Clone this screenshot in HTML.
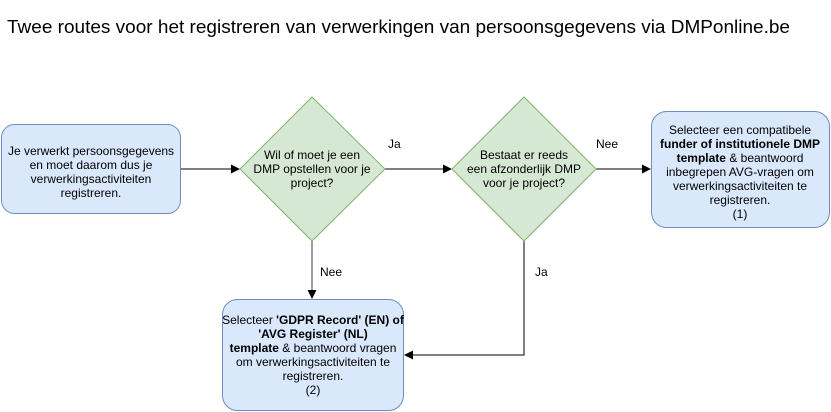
<!DOCTYPE html>
<html><head><meta charset="utf-8"><style>
body{margin:0;background:#fff;}
svg{display:block;font-family:"Liberation Sans",Arial,sans-serif;}
</style></head><body>
<svg width="831" height="412" viewBox="0 0 831 412" xmlns="http://www.w3.org/2000/svg">
<text x="7" y="33" font-size="18.5" textLength="783" lengthAdjust="spacingAndGlyphs">Twee routes voor het registreren van verwerkingen van persoonsgegevens via DMPonline.be</text>
<!-- connectors -->
<g stroke="#000" stroke-width="1" fill="none">
<line x1="181" y1="169" x2="232" y2="169"/>
<line x1="385" y1="169" x2="444" y2="169"/>
<line x1="596" y1="169" x2="643" y2="169"/>
<polyline points="524,241 524,355 412,355"/>
</g>
<line x1="312" y1="241" x2="312" y2="291" stroke="#666" stroke-width="1.3"/>
<g fill="#000">
<polygon points="240,169 231,164.5 231,173.5"/>
<polygon points="452,169 443,164.5 443,173.5"/>
<polygon points="651,169 642,164.5 642,173.5"/>
<polygon points="404,355 413,350.5 413,359.5"/>
<polygon points="312,299 307.5,290 316.5,290"/>
</g>
<!-- shapes -->
<rect x="1.5" y="124.5" width="179" height="89" rx="13" fill="#dae8fc" stroke="#6c8ebf"/>
<polygon points="312,97 385,169 312,241 240,169" fill="#d5e8d4" stroke="#82b366"/>
<polygon points="524,97 596,169 524,241 452,169" fill="#d5e8d4" stroke="#82b366"/>
<rect x="651.5" y="111.5" width="178" height="116" rx="15" fill="#dae8fc" stroke="#6c8ebf"/>
<rect x="222.5" y="299.5" width="181" height="111" rx="15" fill="#dae8fc" stroke="#6c8ebf"/>
<g font-size="12" text-anchor="middle" fill="#000">
<text x="91" y="155">Je verwerkt persoonsgegevens</text>
<text x="91" y="169">en moet daarom dus je</text>
<text x="91" y="183">verwerkingsactiviteiten</text>
<text x="91" y="197">registreren.</text>
<text x="312" y="159">Wil of moet je een</text>
<text x="312" y="173">DMP opstellen voor je</text>
<text x="312" y="187">project?</text>
<text x="524" y="159">Bestaat er reeds</text>
<text x="524" y="173">een afzonderlijk DMP</text>
<text x="524" y="187">voor je project?</text>
<text x="740" y="134">Selecteer een compatibele</text>
<text x="740" y="148" font-weight="bold">funder of institutionele DMP</text>
<text x="740" y="162"><tspan font-weight="bold">template</tspan> &amp; beantwoord</text>
<text x="740" y="176">inbegrepen AVG-vragen om</text>
<text x="740" y="190">verwerkingsactiviteiten te</text>
<text x="740" y="204">registreren.</text>
<text x="740" y="218">(1)</text>
<text x="313" y="324">Selecteer <tspan font-weight="bold">'GDPR Record' (EN) of</tspan></text>
<text x="313" y="338" font-weight="bold">'AVG Register' (NL)</text>
<text x="313" y="352"><tspan font-weight="bold">template</tspan> &amp; beantwoord vragen</text>
<text x="313" y="366">om verwerkingsactiviteiten te</text>
<text x="313" y="380">registreren.</text>
<text x="313" y="394">(2)</text>
</g>
<g font-size="12" fill="#000">
<text x="388" y="148">Ja</text>
<text x="596" y="148">Nee</text>
<text x="320" y="276">Nee</text>
<text x="535" y="276">Ja</text>
</g>
</svg>
</body></html>
